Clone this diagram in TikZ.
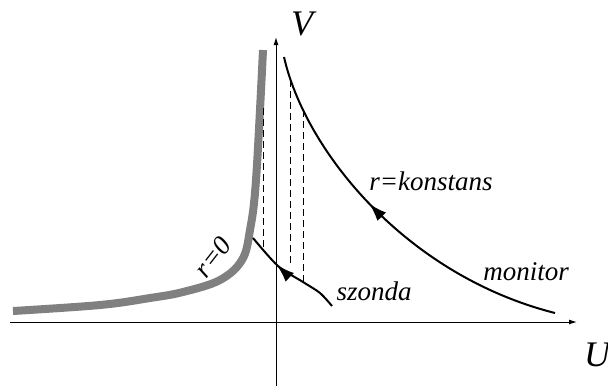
\documentclass[tikz,border=0pt]{standalone}
\usepackage{fontspec}
\setmainfont{Liberation Serif}
\usetikzlibrary{arrows.meta,decorations.markings}

\begin{document}
\begin{tikzpicture}[x=0.5pt,y=-0.5pt,
    axis/.style={line width=0.5pt,-{Latex[length=4pt,width=2.5pt]}},
    curve/.style={line width=1pt},
    flowarrow/.style={postaction=decorate,decoration={markings,
        mark=at position #1 with {\arrow{Latex[length=9pt,width=6pt]}}}},
    guide/.style={line width=0.5pt,dash pattern=on 3.5pt off 2pt},
    lbl/.style={font=\fontsize{13.5}{16}\selectfont\itshape,inner sep=0pt},
    axlbl/.style={font=\fontsize{18}{20}\selectfont\itshape,inner sep=0pt}]
    \useasboundingbox (0,0) rectangle (608,386);

    % Axes
    \coordinate (uL) at (10,322);
    \coordinate (uR) at (577,322);
    \coordinate (vB) at (276,386);
    \coordinate (vT) at (276,37);
    \draw[axis] (uL) -- (uR);
    \draw[axis] (vB) -- (vT);
    \node[axlbl] (vlab) at (302,24) {V};
    \node[axlbl] (ulab) at (597,355) {U};

    % r=0 curve
    \draw[line width=4pt,gray] plot[smooth,tension=0.6] coordinates {
        (13,311) (100,305) (150,298) (183,292) (220,280) (242,260)
        (250,230) (256,180) (263,50)};
    \node[lbl,rotate=52] (rzero) at (213,257) {r=0};

    % Dashed guides
    \coordinate (g1t) at (263,108);
    \coordinate (g1b) at (263,250);
    \coordinate (g2t) at (290,80);
    \coordinate (g2b) at (290,264);
    \coordinate (g3t) at (303,110);
    \coordinate (g3b) at (303,282);
    \draw[guide] (g1t) -- (g1b);
    \draw[guide] (g2t) -- (g2b);
    \draw[guide] (g3t) -- (g3b);

    % Monitor curve
    \coordinate (monA) at (555,313);
    \coordinate (monB) at (284,57);
    \draw[curve,flowarrow=0.56] (monA) .. controls (405,275) and (305,150) .. (monB);
    \node[lbl] (konst) at (431,181) {r=konstans};
    \node[lbl] (mon) at (526,272) {monitor};

    % Szonda curve
    \draw[curve,flowarrow=0.66] plot[smooth] coordinates {
        (332,306) (320,293) (303,282) (278,266) (253,238)};
    \node[lbl] (szon) at (374,291) {szonda};
\end{tikzpicture}
\end{document}
